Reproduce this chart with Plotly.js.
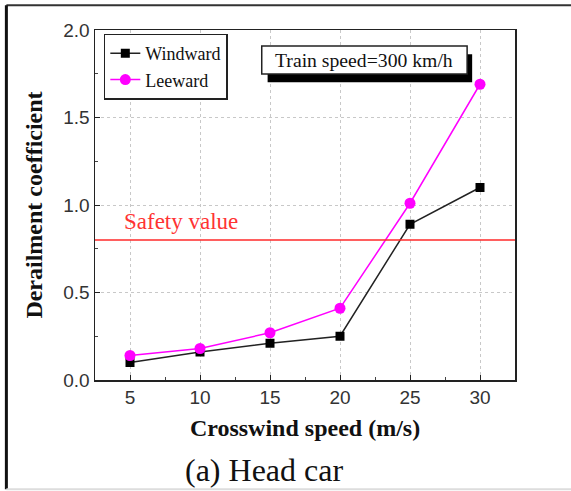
<!DOCTYPE html>
<html>
<head>
<meta charset="utf-8">
<script src="https://cdn.plot.ly/plotly-3.0.1.min.js"></script>
<style>html,body{margin:0;padding:0;background:#fff;}#chart{width:571px;height:491px;}</style>
</head>
<body>
<div id="chart"></div>
<script>
// Data
const crosswindSpeed = [5, 10, 15, 20, 25, 30];
const windward = [0.10, 0.16, 0.21, 0.25, 0.89, 1.10];
const leeward = [0.14, 0.18, 0.27, 0.41, 1.01, 1.69];
const safetyValue = 0.8;
const seriesNames = ['Windward', 'Leeward'];
const xTicks = [5, 10, 15, 20, 25, 30];
const yTicks = [0.0, 0.5, 1.0, 1.5, 2.0];

const serif = 'Liberation Serif, Times New Roman, serif';
const sans = 'Liberation Sans, Arial, sans-serif';

const traces = [
  {x: crosswindSpeed, y: windward, name: seriesNames[0], type: 'scatter', mode: 'lines+markers',
   line: {color: '#222', width: 1.5}, marker: {symbol: 'square', size: 9, color: '#000'}},
  {x: crosswindSpeed, y: leeward, name: seriesNames[1], type: 'scatter', mode: 'lines+markers',
   line: {color: '#ff00ff', width: 1.5}, marker: {symbol: 'circle', size: 11, color: '#ff00ff'}}
];

const layout = {
  width: 571, height: 491,
  margin: {l: 95, r: 56, t: 30, b: 111},
  paper_bgcolor: '#fff', plot_bgcolor: '#fff',
  showlegend: true,
  legend: {x: 0.021, y: 0.99, xanchor: 'left', yanchor: 'top', bgcolor: '#fff',
           bordercolor: '#222', borderwidth: 1.5, font: {family: serif, size: 18, color: '#111'},
           tracegroupgap: 0, itemwidth: 30},
  xaxis: {range: [2.5, 32.5], tickvals: xTicks, ticks: 'inside', ticklen: 5, tickcolor: '#222',
          showline: true, linecolor: '#222', linewidth: 1.5, mirror: true, zeroline: false,
          showgrid: true, gridcolor: '#c8c8c8', griddash: 'dot', gridwidth: 1,
          minor: {ticks: 'inside', dtick: 2.5, tick0: 2.5, ticklen: 3, tickcolor: '#444', showgrid: false},
          tickfont: {family: sans, size: 19, color: '#333'},
          title: {text: '<b>Crosswind speed (m/s)</b>', font: {family: serif, size: 24, color: '#111'}, standoff: 12}},
  yaxis: {range: [0, 2], tickvals: yTicks, tickformat: '.1f', ticks: 'inside', ticklen: 5, tickcolor: '#222',
          showline: true, linecolor: '#222', linewidth: 1.5, mirror: true, zeroline: false,
          showgrid: true, gridcolor: '#c8c8c8', griddash: 'dot', gridwidth: 1,
          minor: {ticks: 'inside', dtick: 0.25, tick0: 0, ticklen: 3, tickcolor: '#444', showgrid: false},
          tickfont: {family: sans, size: 19, color: '#333'},
          title: {text: '<b>Derailment coefficient</b>', font: {family: serif, size: 24, color: '#111'}, standoff: 14}},
  shapes: [
    // safety value line
    {type: 'line', xref: 'paper', yref: 'y', x0: 0, x1: 1, y0: safetyValue, y1: safetyValue,
     line: {color: '#ff2a2a', width: 1.5}, layer: 'above'},
    // annotation box shadow
    {type: 'rect', xref: 'paper', yref: 'paper', x0: 0.411, x1: 0.898, y0: 0.851, y1: 0.931,
     fillcolor: '#000', line: {width: 0}, layer: 'above'},
    // annotation box
    {type: 'rect', xref: 'paper', yref: 'paper', x0: 0.397, x1: 0.886, y0: 0.874, y1: 0.954,
     fillcolor: '#fff', line: {color: '#222', width: 1.5}, layer: 'above'},
    // outer frame
    {type: 'line', xref: 'paper', yref: 'paper', x0: -0.211, x1: 1.2, y0: 1.071, y1: 1.071,
     line: {color: '#333', width: 2}},
    {type: 'line', xref: 'paper', yref: 'paper', x0: -0.211, x1: -0.211, y0: 1.071, y1: -0.312,
     line: {color: '#111', width: 3}},
    {type: 'line', xref: 'paper', yref: 'paper', x0: -0.211, x1: 1.2, y0: -0.312, y1: -0.312,
     line: {color: '#ddd', width: 2}}
  ],
  annotations: [
    {text: 'Train speed=300 km/h', xref: 'paper', yref: 'paper', x: 0.641, y: 0.914,
     xanchor: 'center', yanchor: 'middle', showarrow: false, font: {family: serif, size: 19.7, color: '#111'}},
    {text: 'Safety value', xref: 'x', yref: 'y', x: 4.43, y: 0.905, xanchor: 'left', yanchor: 'middle',
     showarrow: false, font: {family: serif, size: 23, color: '#ff3333'}},
    {text: '(a) Head car', xref: 'paper', yref: 'paper', x: (264.5 - 95) / 421, y: (380 - 470) / 350,
     xanchor: 'center', yanchor: 'middle', showarrow: false, font: {family: serif, size: 32, color: '#111'}}
  ]
};

Plotly.newPlot('chart', traces, layout, {displayModeBar: false, staticPlot: true});
</script>
</body>
</html>
